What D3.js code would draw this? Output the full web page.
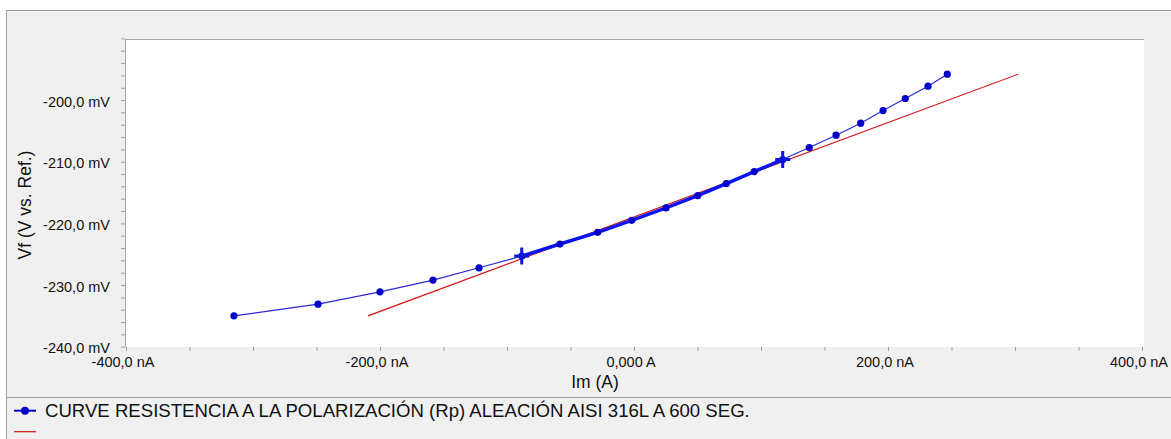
<!DOCTYPE html>
<html>
<head>
<meta charset="utf-8">
<script src="https://cdn.jsdelivr.net/npm/d3@7/dist/d3.min.js"></script>
<style>
  html, body { margin: 0; padding: 0; background: #ffffff; }
  svg { display: block; font-family: "Liberation Sans", Arial, sans-serif; }
</style>
</head>
<body>
<svg id="chart" width="1171" height="439"></svg>
<script>
// ---- data ----
const currentNA = [-315.0, -248.8, -200.0, -158.3, -122.0, -88.4, -58.3, -28.6, -1.8, 25.2, 50.2,
                   72.7, 94.7, 117.1, 138.0, 159.1, 178.5, 196.1, 213.6, 231.5, 246.7];
const potentialMV = [-235.0, -233.1, -231.1, -229.2, -227.2, -225.3, -223.35, -221.45, -219.5, -217.5, -215.5,
                     -213.55, -211.6, -209.65, -207.7, -205.7, -203.75, -201.7, -199.75, -197.75, -195.8];
const fitStartIndex = 5;
const fitEndIndex = 13;
const fitLineX = [-209.5, 302.6];
const fitLineY = [-235.0, -195.8];

const xTickValues = [-400, -200, 0, 200, 400];
const xTickLabels = ["-400,0 nA", "-200,0 nA", "0,000 A", "200,0 nA", "400,0 nA"];
const yTickValues = [-240, -230, -220, -210, -200];
const yTickLabels = ["-240,0 mV", "-230,0 mV", "-220,0 mV", "-210,0 mV", "-200,0 mV"];
const xTitle = "Im (A)";
const yTitle = "Vf (V vs. Ref.)";
const legendLabels = ["CURVE RESISTENCIA A LA POLARIZACIÓN (Rp) ALEACIÓN AISI 316L A 600 SEG.", ""];

// ---- drawing ----
const svg = d3.select("#chart");
const W = 1171, H = 439;

// outer frame
svg.append("rect").attr("x", 6.5).attr("y", 10.5).attr("width", W - 6).attr("height", H - 10)
  .attr("fill", "#f0f0f0").attr("stroke", "#a0a0a0").attr("stroke-width", 1);

const plot = { left: 125, right: 1144, top: 39, bottom: 347 };
const x = d3.scaleLinear().domain([-400, 400]).range([126, 1142]);
const y = d3.scaleLinear().domain([-240, -190]).range([346.7, 38.4]);

// plot background
svg.append("rect").attr("x", plot.left).attr("y", plot.top)
  .attr("width", plot.right - plot.left).attr("height", plot.bottom - plot.top)
  .attr("fill", "#ffffff");
svg.append("line").attr("x1", plot.left).attr("x2", plot.right).attr("y1", plot.top + 0.5).attr("y2", plot.top + 0.5)
  .attr("stroke", "#a8a8a8");
svg.append("line").attr("x1", plot.left + 0.5).attr("x2", plot.left + 0.5).attr("y1", plot.top).attr("y2", plot.bottom)
  .attr("stroke", "#a8a8a8");

// axes
const xMinor = d3.range(-400, 401, 50);
const yMinor = d3.range(-240, -189, 2);

const xAxisG = svg.append("g").attr("transform", `translate(0,${plot.bottom})`)
  .call(d3.axisBottom(x).tickValues(xMinor).tickSize(4).tickFormat(""));
const yAxisG = svg.append("g").attr("transform", `translate(${plot.left},0)`)
  .call(d3.axisLeft(y).tickValues(yMinor).tickSize(4).tickFormat(""));
[xAxisG, yAxisG].forEach(g => {
  g.select(".domain").remove();
  g.selectAll(".tick line").attr("stroke", "#a0a0a0");
});

svg.append("g").selectAll("text").data(xTickValues).join("text")
  .attr("x", d => x(d) - 3).attr("y", 367)
  .attr("text-anchor", "middle").attr("font-size", "14.5px").attr("fill", "#111111")
  .text((d, i) => xTickLabels[i]);
svg.append("g").selectAll("text").data(yTickValues).join("text")
  .attr("x", 110).attr("y", d => y(d) + 6.5)
  .attr("text-anchor", "end").attr("font-size", "14.5px").attr("fill", "#111111")
  .text((d, i) => yTickLabels[i]);

// titles
svg.append("text").attr("x", 595).attr("y", 388).attr("text-anchor", "middle")
  .attr("font-size", "17.5px").attr("fill", "#111111").text(xTitle);
svg.append("text").attr("transform", "translate(31,205) rotate(-90)").attr("text-anchor", "middle")
  .attr("font-size", "17.5px").attr("fill", "#111111").text(yTitle);

// data
const pts = currentNA.map((v, i) => [v, potentialMV[i]]);
const line = d3.line().x(d => x(d[0])).y(d => y(d[1]));

svg.append("defs").append("clipPath").attr("id", "clipPlot")
  .append("rect").attr("x", plot.left).attr("y", plot.top)
  .attr("width", plot.right - plot.left).attr("height", plot.bottom - plot.top);
const gData = svg.append("g").attr("clip-path", "url(#clipPlot)");

// fit line (red)
gData.append("path").datum(fitLineX.map((v, i) => [v, fitLineY[i]]))
  .attr("d", line).attr("fill", "none").attr("stroke", "#d01010").attr("stroke-width", 1.1);

// thin curve
gData.append("path").datum(pts).attr("d", line)
  .attr("fill", "none").attr("stroke", "#2a2ad0").attr("stroke-width", 1.2);

// highlighted fit range
gData.append("path").datum(pts.slice(fitStartIndex, fitEndIndex + 1)).attr("d", line)
  .attr("fill", "none").attr("stroke", "#0a14f0").attr("stroke-width", 3.5);

// markers
gData.selectAll("circle.pt").data(pts).join("circle").attr("class", "pt")
  .attr("cx", d => x(d[0])).attr("cy", d => y(d[1])).attr("r", 3.6)
  .attr("fill", "#0000c8");

// crosses at fit limits
[fitStartIndex, fitEndIndex].forEach(i => {
  const cx = x(pts[i][0]), cy = y(pts[i][1]);
  gData.append("path")
    .attr("d", `M${cx - 7.5},${cy}H${cx + 7.5}M${cx},${cy - 8.5}V${cy + 8.5}`)
    .attr("stroke", "#0a14e0").attr("stroke-width", 3).attr("fill", "none");
});

// legend
svg.append("line").attr("x1", 7).attr("x2", W).attr("y1", 397.5).attr("y2", 397.5)
  .attr("stroke", "#a0a0a0");
svg.append("line").attr("x1", 14).attr("x2", 36).attr("y1", 410.7).attr("y2", 410.7)
  .attr("stroke", "#0000c8").attr("stroke-width", 2);
svg.append("circle").attr("cx", 25).attr("cy", 410.7).attr("r", 4).attr("fill", "#0000c8");
svg.append("text").attr("x", 45).attr("y", 417).attr("font-size", "18.6px").attr("fill", "#111111")
  .text(legendLabels[0]);
svg.append("line").attr("x1", 14).attr("x2", 36).attr("y1", 431.7).attr("y2", 431.7)
  .attr("stroke", "#d01010").attr("stroke-width", 1.2);
svg.append("text").attr("x", 45).attr("y", 438).attr("font-size", "18.6px").attr("fill", "#111111")
  .text(legendLabels[1]);
</script>
</body>
</html>
